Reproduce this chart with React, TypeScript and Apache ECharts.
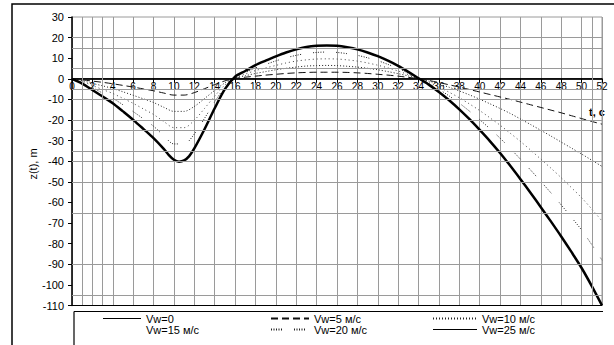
import React, { useEffect, useRef } from 'react';
import * as echarts from 'echarts';

const T = [0, 1, 2, 3, 4, 5, 6, 7, 8, 9, 10, 11, 12, 13, 14, 15, 16, 17, 18, 19, 20, 21, 22, 23, 24, 25, 26, 27, 28, 29, 30, 31, 32, 33, 34, 35, 36, 37, 38, 39, 40, 41, 42, 43, 44, 45, 46, 47, 48, 49, 50, 51, 52];

const VW0_T = [0, 52];
const VW0 = [0, 0];

const VW5 = [0, -0.5, -1.1, -1.7, -2.4, -3.2, -4, -4.9, -5.8, -6.9,
  -7.9, -7.9, -6.7, -4.8, -2.8, -1, 0.2, 0.8, 1.3, 1.8,
  2.2, 2.6, 2.9, 3.1, 3.2, 3.2, 3.2, 3.1, 2.9, 2.6,
  2.2, 1.8, 1.3, 0.7, 0.1, -0.8, -1.8, -2.9, -4, -5.2,
  -6.4, -7.6, -8.8, -10, -11.3, -12.6, -13.9, -15.2, -16.5, -17.9,
  -19.3, -20.7, -22];

const VW10 = [0, -0.9, -2.2, -3.4, -4.7, -6.3, -8, -9.7, -11.5, -13.8,
  -15.8, -15.8, -13.4, -9.6, -5.6, -2, 0.4, 1.5, 2.6, 3.5,
  4.4, 5.1, 5.7, 6.2, 6.4, 6.5, 6.4, 6.1, 5.7, 5.1,
  4.4, 3.5, 2.5, 1.4, 0.1, -1.1, -2.5, -4.1, -5.9, -7.8,
  -9.9, -12.1, -14.4, -16.8, -19.5, -22.2, -25, -27.8, -30.7, -33.6,
  -36.5, -39.5, -42.5];

const VW15 = [0, -1.4, -3.2, -5.2, -7.1, -9.5, -11.9, -14.6, -17.3, -20.7,
  -23.7, -23.7, -20.1, -14.4, -8.4, -3, 0.6, 2.3, 4, 5.3,
  6.5, 7.7, 8.6, 9.2, 9.6, 9.7, 9.6, 9.2, 8.6, 7.7,
  6.6, 5.3, 3.8, 2, 0.2, -1.8, -4, -6.5, -9.2, -12.2,
  -15.4, -18.9, -22.5, -26.4, -30.4, -34.6, -39, -43.4, -48, -52.8,
  -57.7, -63.2, -69];

const VW20 = [0, -1.8, -4.3, -6.9, -9.4, -12.6, -15.9, -19.4, -23, -27.6,
  -31.6, -31.6, -26.8, -19.2, -11.2, -4, 0.8, 3, 5.3, 7,
  8.7, 10.2, 11.4, 12.3, 12.8, 13, 12.8, 12.2, 11.4, 10.2,
  8.8, 7, 5, 2.7, 0.2, -2.3, -5.1, -8.3, -11.8, -15.7,
  -19.8, -24.2, -28.8, -33.8, -39, -44.3, -49.8, -55.4, -61.2, -67.2,
  -73.4, -80.5, -88];

const T25 = [0, 1, 2, 3, 4, 5, 6, 7, 8, 9, 9.5, 10, 10.5, 11, 11.5, 12, 13, 14, 15, 16, 17, 18, 19, 20, 21, 22, 23, 24, 25, 26, 27, 28, 29, 30, 31, 32, 33, 34, 35, 36, 37, 38, 39, 40, 41, 42, 43, 44, 45, 46, 47, 48, 49, 50, 51, 52];

const VW25 = [0, -2.3, -5.4, -8.6, -11.8, -15.8, -19.9, -24.3, -28.8, -34,
  -37, -39.3, -40.2, -39.6, -37.5, -33.8, -24.5, -14.3, -5, 1, 3.8, 6.6, 8.8,
  10.9, 12.8, 14.3, 15.4, 16, 16.2, 16, 15.3, 14.3, 12.8,
  11, 8.8, 6.3, 3.4, 0.3, -2.8, -6.4, -10.4, -14.8, -19.6,
  -24.8, -30.2, -36, -42.2, -48.7, -55.4, -62.3, -69.3, -76.5, -84,
  -91.8, -100.6, -110];

const NAMES = ['Vw=0', 'Vw=5 м/с', 'Vw=10 м/с', 'Vw=15 м/с', 'Vw=20 м/с', 'Vw=25 м/с'];

const H_GRID = [20, 15, 5, -5, -10, -20, -25, -35, -40, -50, -65, -90, -105];
const V_GRID_EXTRA = [1, 3, 51];

const FONT = '"Liberation Sans", Arial, sans-serif';

const pair = (xs: number[], ys: number[]) => xs.map((x, i) => [x, ys[i]]);

export default function App() {
  const ref = useRef<HTMLDivElement>(null);
  useEffect(() => {
    if (!ref.current) return;
    const chart = echarts.init(ref.current, null, { renderer: 'svg' });
    const base = {
      type: 'line',
      symbol: 'none',
      smooth: 0.3,
      silent: true,
      itemStyle: { opacity: 0 },
      z: 3,
    };
    const legendText = { fontSize: 11, lineHeight: 11, color: '#000', fontFamily: FONT };
    const legendCommon = {
      orient: 'vertical',
      top: 313,
      itemHeight: 11,
      itemGap: 0,
      selectedMode: false,
      textStyle: legendText,
      itemStyle: { opacity: 0 },
      padding: 0,
    };
    // plot height 288.5 px for 140 units -> zero line sits 226.7 px above the bottom edge
    const option: any = {
      animation: false,
      backgroundColor: '#fff',
      textStyle: { fontFamily: FONT },
      grid: {
        left: 72,
        right: 12,
        top: 17,
        bottom: 39.5,
        show: true,
        borderColor: '#9a9a9a',
        borderWidth: 1,
        backgroundColor: 'transparent',
      },
      xAxis: {
        type: 'value',
        position: 'bottom',
        offset: -226.7,
        min: 0,
        max: 52,
        interval: 2,
        axisLine: { onZero: false, lineStyle: { color: '#000', width: 1.5 } },
        axisTick: { show: true, length: 4, lineStyle: { color: '#000' } },
        axisLabel: { fontSize: 10, color: '#000', margin: 3, showMinLabel: true, showMaxLabel: true, fontFamily: FONT },
        splitLine: { show: true, lineStyle: { color: '#9a9a9a', width: 1 } },
      },
      yAxis: {
        type: 'value',
        min: -110,
        max: 30,
        interval: 10,
        axisLine: { show: true, onZero: false, lineStyle: { color: '#000', width: 1.5 } },
        axisTick: { show: true, length: 4, lineStyle: { color: '#000' } },
        axisLabel: { fontSize: 11, color: '#000', margin: 8, fontFamily: FONT },
        splitLine: { show: false },
      },
      legend: [
        { ...legendCommon, left: 102, itemWidth: 38, data: [{ name: NAMES[0], lineStyle: { width: 1 } }, { name: NAMES[3], lineStyle: { opacity: 0 } }] },
        { ...legendCommon, left: 270, itemWidth: 38, data: [NAMES[1], NAMES[4]] },
        { ...legendCommon, left: 432, itemWidth: 44, data: [NAMES[2], { name: NAMES[5], lineStyle: { width: 1.2 } }] },
      ],
      graphic: [
        { type: 'rect', silent: true, shape: { x: 12, y: 4, width: 660, height: 420 }, style: { fill: 'none', stroke: '#000', lineWidth: 1.5 } },
        { type: 'line', silent: true, shape: { x1: 74, y1: 311.5, x2: 603, y2: 311.5 }, style: { stroke: '#000', lineWidth: 1.2 } },
        { type: 'line', silent: true, shape: { x1: 74, y1: 311.5, x2: 74, y2: 350 }, style: { stroke: '#000', lineWidth: 1.2 } },
        { type: 'text', silent: true, x: 589, y: 106, style: { text: 't, c', fontSize: 11, fontWeight: 'bold', fill: '#000', fontFamily: FONT } },
        { type: 'text', silent: true, x: 33, y: 164, rotation: Math.PI / 2, style: { text: 'z(t), m', fontSize: 11, fill: '#000', align: 'center', verticalAlign: 'middle', fontFamily: FONT } },
      ],
      series: [
        {
          type: 'line',
          name: 'grid',
          data: [[0, 0]],
          symbol: 'none',
          silent: true,
          z: 1,
          lineStyle: { opacity: 0 },
          markLine: {
            silent: true,
            symbol: ['none', 'none'],
            label: { show: false },
            emphasis: { disabled: true },
            lineStyle: { color: '#9a9a9a', width: 1, type: 'solid' },
            data: [
              ...H_GRID.map((v) => ({ yAxis: v })),
              ...V_GRID_EXTRA.map((v) => ({ xAxis: v })),
              { yAxis: -110, lineStyle: { color: '#000', width: 1.2, type: 'solid' } },
            ],
          },
        },
        { ...base, name: NAMES[0], data: pair(VW0_T, VW0), color: '#000', lineStyle: { color: '#000', width: 1.2, type: 'solid' } },
        { ...base, name: NAMES[1], data: pair(T, VW5), color: '#111', lineStyle: { color: '#111', width: 1, type: [7, 4] } },
        { ...base, name: NAMES[2], data: pair(T, VW10), color: '#222', lineStyle: { color: '#222', width: 1, type: [1, 2] } },
        { ...base, name: NAMES[3], data: pair(T, VW15), color: '#444', lineStyle: { color: '#444', width: 1, type: [1, 3] } },
        { ...base, name: NAMES[4], data: pair(T, VW20), color: '#222', lineStyle: { color: '#222', width: 1, type: [1, 1.5, 1, 1.5, 1, 1.5, 1, 1.5, 1, 12] } },
        { ...base, name: NAMES[5], data: pair(T25, VW25), color: '#000', lineStyle: { color: '#000', width: 2.5, type: 'solid' } },
      ],
    };
    chart.setOption(option);
    return () => chart.dispose();
  }, []);
  return (
    <div
      ref={ref}
      style={{ position: 'fixed', left: 0, top: 0, width: 614, height: 345, background: '#fff' }}
    />
  );
}
